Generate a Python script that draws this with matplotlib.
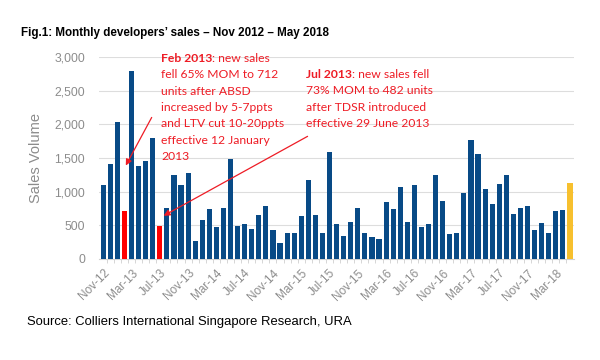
import numpy as np
import matplotlib
matplotlib.use('Agg')
import matplotlib.pyplot as plt

plt.rcParams['font.family'] = ['Liberation Sans', 'DejaVu Sans']

# monthly developers' sales, Nov 2012 - May 2018
months = ['Nov-12', 'Dec-12',
          'Jan-13', 'Feb-13', 'Mar-13', 'Apr-13', 'May-13', 'Jun-13', 'Jul-13', 'Aug-13', 'Sep-13', 'Oct-13', 'Nov-13', 'Dec-13',
          'Jan-14', 'Feb-14', 'Mar-14', 'Apr-14', 'May-14', 'Jun-14', 'Jul-14', 'Aug-14', 'Sep-14', 'Oct-14', 'Nov-14', 'Dec-14',
          'Jan-15', 'Feb-15', 'Mar-15', 'Apr-15', 'May-15', 'Jun-15', 'Jul-15', 'Aug-15', 'Sep-15', 'Oct-15', 'Nov-15', 'Dec-15',
          'Jan-16', 'Feb-16', 'Mar-16', 'Apr-16', 'May-16', 'Jun-16', 'Jul-16', 'Aug-16', 'Sep-16', 'Oct-16', 'Nov-16', 'Dec-16',
          'Jan-17', 'Feb-17', 'Mar-17', 'Apr-17', 'May-17', 'Jun-17', 'Jul-17', 'Aug-17', 'Sep-17', 'Oct-17', 'Nov-17', 'Dec-17',
          'Jan-18', 'Feb-18', 'Mar-18', 'Apr-18', 'May-18']
sales = [1090, 1410,
         2030, 712, 2790, 1380, 1460, 1800, 482, 760, 1250, 1100, 1270, 260,
         570, 740, 480, 760, 1490, 490, 520, 450, 650, 790, 430, 230,
         380, 390, 630, 1170, 650, 380, 1590, 520, 340, 550, 760, 390,
         320, 300, 850, 740, 1060, 540, 1100, 470, 520, 1250, 860, 370,
         390, 980, 1770, 1560, 1040, 820, 1110, 1240, 660, 760, 790, 430,
         530, 390, 710, 730, 1130]
highlight_red = ['Feb-13', 'Jul-13']
highlight_yellow = ['May-18']

blue = '#084A86'
red = '#FF0000'
yellow = '#F7C02E'
txt_red = '#EE1C25'
grey = '#8C8C8C'

colors = []
for m in months:
    if m in highlight_red:
        colors.append(red)
    elif m in highlight_yellow:
        colors.append(yellow)
    else:
        colors.append(blue)

x = np.arange(len(months))

fig = plt.figure(figsize=(6, 3.6), dpi=100)
ax = fig.add_axes([0.165, 0.281, 0.792, 0.561])

ax.bar(x, sales, width=0.72, color=colors, zorder=3)
ax.set_xlim(-0.6, len(months) - 0.4)
ax.set_ylim(0, 3000)
ax.set_yticks(np.arange(0, 3001, 500))
ax.set_yticklabels(['{:,}'.format(v) for v in range(0, 3001, 500)])
ax.yaxis.grid(True, color='#DDDDDD', linewidth=0.8, zorder=0)

ax.set_xticks(x[::4])
ax.set_xticklabels(months[::4], rotation=45, ha='right', rotation_mode='anchor')
ax.set_xticks(x[:-1] + 0.5, minor=True)
ax.tick_params(axis='x', which='major', length=0, pad=6, labelsize=8.5, labelcolor=grey)
ax.tick_params(axis='x', which='minor', length=3, color='#D0D0D0', width=0.6)
ax.tick_params(axis='y', length=0, pad=10, labelsize=8.8, labelcolor=grey)

for s in ['top', 'right', 'left']:
    ax.spines[s].set_visible(False)
ax.spines['bottom'].set_color('#D0D0D0')
ax.spines['bottom'].set_linewidth(0.8)

ax.set_ylabel('Sales Volume', fontsize=10.5, color=grey, labelpad=8)

# title and source
fig.text(21 / 600, 1 - 33 / 360, 'Fig.1: Monthly developers\u2019 sales \u2013 Nov 2012 \u2013 May 2018',
         fontsize=8.4, fontweight='bold', va='center')
fig.text(27 / 600, 1 - 322 / 360, 'Source: Colliers International Singapore Research, URA',
         fontsize=9.4, va='center')

# annotations
fnt = 'Lato'
fs = 8.7

def note(x0, y0, head, rest, lines):
    t = fig.text(x0 / 600, 1 - y0 / 360, head, fontsize=fs, family=fnt, fontweight='bold',
                 color=txt_red, va='baseline')
    ax.annotate(rest, xy=(1, 0), xycoords=t, va='bottom', ha='left', fontsize=fs,
                family=fnt, color=txt_red)
    for i, ln in enumerate(lines):
        fig.text(x0 / 600, 1 - (y0 + 16.3 * (i + 1)) / 360, ln, fontsize=fs, family=fnt,
                 color=txt_red, va='baseline')

note(161, 62, 'Feb 2013', ': new sales',
     ['fell 65% MOM to 712', 'units after ABSD', 'increased by 5-7ppts',
      'and LTV cut 10-20ppts', 'effective 12 January', '2013'])
note(306, 78, 'Jul 2013', ': new sales fell',
     ['73% MOM to 482 units', 'after TDSR introduced', 'effective 29 June 2013'])

arrow = dict(arrowstyle='-|>', color=txt_red, lw=0.9, mutation_scale=9)
ax.annotate('', xy=(3, 1350), xytext=(153 / 600, 1 - 115 / 360),
            textcoords='figure fraction', arrowprops=arrow)
ax.annotate('', xy=(8.2, 620), xytext=(310 / 600, 1 - 135 / 360),
            textcoords='figure fraction', arrowprops=arrow)

fig.savefig('out.png', dpi=100)
